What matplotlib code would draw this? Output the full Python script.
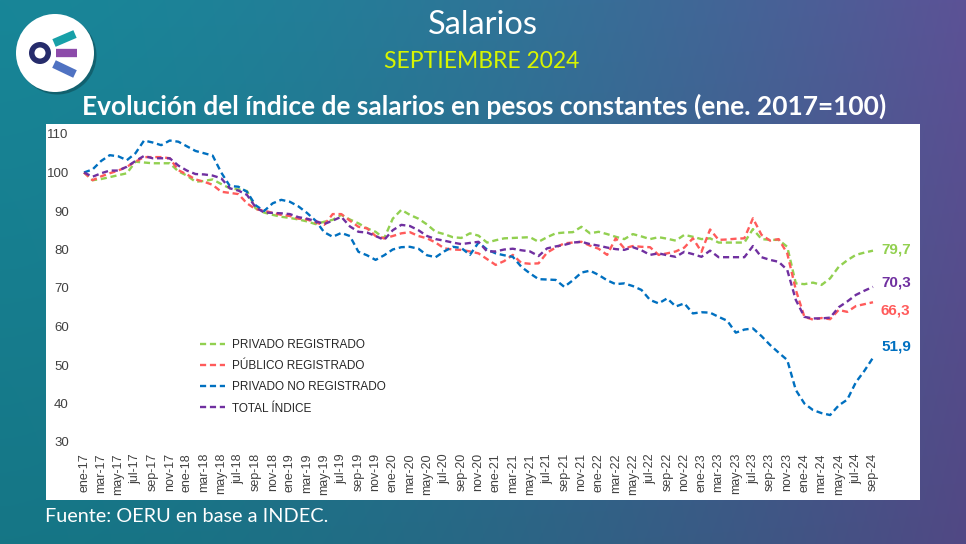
import numpy as np
import matplotlib
matplotlib.use("Agg")
import matplotlib.pyplot as plt
from matplotlib.patches import Circle, Rectangle

# ---------------- data ----------------
month_names = ["ene", "feb", "mar", "abr", "may", "jun", "jul", "ago", "sep", "oct", "nov", "dic"]
years = ["17", "18", "19", "20", "21", "22", "23", "24"]
month_labels = [f"{m}-{y}" for y in years for m in month_names][:93]

privado_registrado = [
    100, 98, 98.3, 98.8, 99.3, 99.8, 102.8, 102.6, 102.4, 102.4, 102.4, 100.3,
    99.2, 97.6, 97.8, 98.2, 97, 95.9, 95.6, 95.2, 90.7, 89.6, 89, 88.5,
    88.2, 87.8, 87.3, 86.6, 87.2, 87.7, 89, 87.8, 86.8, 85.5, 84.6, 82.9,
    88, 90.3, 89, 88, 86.5, 84.6, 84, 83.2, 83, 84.2, 83.6, 81.8,
    82.4, 82.9, 83, 83.1, 83.2, 82, 83.2, 84.2, 84.4, 84.5, 85.9, 84.2,
    84.6, 84, 83.3, 82.7, 84, 83.4, 82.7, 83.2, 82.8, 82.3, 83.8, 83.3,
    82.7, 82.9, 81.8, 81.8, 81.8, 81.8, 85.3, 82.7, 82.5, 82.5, 80.7, 71.2,
    71, 71.4, 70.8, 72.5, 75.5, 77.2, 78.6, 79.2, 79.7]

publico_registrado = [
    100, 98, 99, 99.8, 100.5, 101.5, 102.8, 104, 104, 104, 103.7, 100.6,
    99.5, 98.2, 97.6, 96.8, 95, 94.7, 94.4, 92, 90.5, 90.1, 89.5, 89,
    88.7, 88, 87.8, 87, 86.4, 89.2, 89.2, 87.5, 85.9, 85.5, 83.5, 82.9,
    83.5, 84.2, 84.5, 83.5, 82.9, 81.8, 80.3, 80, 79.9, 79.5, 79, 77.5,
    76, 77, 78.6, 76.5, 76.3, 76.4, 79.2, 80.5, 81.6, 81.8, 82, 81,
    80.2, 78.6, 82.9, 80.3, 80.9, 80.7, 80.6, 78.6, 79, 79.5, 80.5, 82.9,
    79.4, 85.2, 82.5, 82.6, 82.8, 82.9, 88.1, 83.8, 82.3, 82.7, 79, 69.5,
    62.5, 61.8, 62.2, 61.9, 64.3, 63.8, 65.3, 65.8, 66.3]

privado_no_registrado = [
    100, 100.8, 103, 104.5, 104.2, 103.2, 105, 108.3, 107.8, 107.1, 108.3, 108,
    106.8, 105.6, 105, 104.4, 100, 96.5, 96.3, 95, 91.5, 90, 92, 92.9,
    92.4, 91.2, 89.5, 87.5, 84.5, 83.3, 84.3, 83.5, 79.4, 78.5, 77.3, 78.5,
    80, 80.6, 80.7, 80.2, 78.5, 78, 79.5, 80.7, 80.4, 78.6, 81.8, 80,
    79, 78.5, 78.1, 75.5, 73.8, 72.3, 72.2, 72.1, 70.3, 72, 74, 74.5,
    73.4, 72, 71, 71.2, 70.5, 69.5, 66.9, 66, 67.3, 65.2, 66, 63.4,
    63.7, 63.6, 62.5, 61.5, 58.4, 59.2, 59.5, 57.5, 55.2, 53.2, 51.3, 43.5,
    40, 38.3, 37.5, 37, 39.5, 41, 45.5, 48.5, 51.9]

total_indice = [
    100, 98.9, 99.8, 100.5, 100.5, 101.5, 103, 104.3, 103.7, 103.7, 103.7, 101.8,
    100.5, 99.6, 99.5, 99.2, 98.5, 95.9, 95.3, 94.2, 91, 89.6, 89.5, 89.4,
    89.2, 88.4, 88, 87.4, 86.6, 87.5, 88.5, 86, 84.6, 84.4, 83.5, 82.5,
    85, 86.4, 86.1, 85, 83.5, 82.7, 82.3, 81.8, 81.4, 81.7, 82, 79.5,
    79.5, 80, 80.2, 79.8, 79.5, 78.3, 80.3, 80.8, 81.2, 81.8, 82, 81.4,
    81, 80.5, 80.1, 79.9, 80.6, 79.8, 78.6, 79, 78.5, 78.1, 79.4, 78.8,
    78.1, 79.7, 78, 78, 78, 78, 80.9, 78, 77.3, 76.8, 74.7, 66.9,
    62.5, 62.1, 62.1, 62.3, 65, 66.5, 68.2, 69.3, 70.3]

series_names = ["PRIVADO REGISTRADO", "PÚBLICO REGISTRADO", "PRIVADO NO REGISTRADO", "TOTAL ÍNDICE"]
series_values = [privado_registrado, publico_registrado, privado_no_registrado, total_indice]
end_labels = ["79,7", "66,3", "51,9", "70,3"]
y_ticks = [30, 40, 50, 60, 70, 80, 90, 100, 110]

# ---------------- style ----------------
colors = ["#92D050", "#FF5B5B", "#0070C0", "#7030A0"]
label_dy_px = [1, -8, 11, 4]
W, H = 966, 544
plt.rcParams['font.family'] = ['Liberation Sans', 'DejaVu Sans']

fig = plt.figure(figsize=(W / 100, H / 100), dpi=100)

# background gradient
bg = fig.add_axes([0, 0, 1, 1])
bg.set_xlim(0, W)
bg.set_ylim(H, 0)
bg.axis("off")
xs = np.linspace(0, 1, 400)
ys = np.linspace(0, 1, 200)
XX, YY = np.meshgrid(xs, ys)
t = np.clip(XX ** 1.6, 0, 1)
left = np.array([24, 134, 152]) / 255
right = np.array([92, 82, 150]) / 255
img = left[None, None, :] * (1 - t[..., None]) + right[None, None, :] * t[..., None]
img = img * (1 - 0.12 * YY[..., None])
bg.imshow(img, extent=[0, W, H, 0], aspect="auto", zorder=0)

# white panel
bg.add_patch(Rectangle((46, 124), 874, 376, facecolor="white", edgecolor="none", zorder=1))

# logo
bg.add_patch(Circle((57.5, 55.5), 39, facecolor="#000000", alpha=0.25, edgecolor="none", zorder=2))
bg.add_patch(Circle((55, 53), 39, facecolor="white", edgecolor="none", zorder=3))
bg.plot([54, 75], [43, 34], color="#17A0A8", lw=6, solid_capstyle="butt", zorder=4)
bg.plot([56, 77], [53, 53], color="#8C4BAA", lw=6, solid_capstyle="butt", zorder=4)
bg.plot([54, 75], [64, 74], color="#4F72C2", lw=6, solid_capstyle="butt", zorder=4)
bg.add_patch(Circle((40, 53), 11, facecolor="#262C6B", edgecolor="none", zorder=5))
bg.add_patch(Circle((40, 53), 5.5, facecolor="white", edgecolor="none", zorder=6))

# header texts
fig.text(483 / W, 1 - 25 / H, "Salarios", color="white", fontsize=23.5,
         family=["Lato", "DejaVu Sans"], ha="center", va="center")
fig.text(482 / W, 1 - 62 / H, "SEPTIEMBRE 2024", color="#D8F500", fontsize=16.5,
         family=["Lato", "DejaVu Sans"], ha="center", va="center")
fig.text(484 / W, 1 - 106 / H, "Evolución del índice de salarios en pesos constantes (ene. 2017=100)",
         color="white", fontsize=19, fontweight="bold", family=["Lato", "DejaVu Sans"],
         ha="center", va="center")
fig.text(45 / W, 1 - 517 / H, "Fuente: OERU en base a INDEC.", color="white", fontsize=14.3,
         family=["Lato", "DejaVu Sans"], ha="left", va="center")

# chart axes
ax = fig.add_axes([84 / W, 1 - 442 / H, (873 - 84) / W, (442 - 134) / H])
ax.patch.set_alpha(0)
x = np.arange(len(month_labels))
for name, vals, c in zip(series_names, series_values, colors):
    ax.plot(x, vals, color=c, lw=1.7, dashes=(2.6, 1.6), label=name, clip_on=False)

for vals, lab, c, dy in zip(series_values, end_labels, colors, label_dy_px):
    ax.annotate(lab, xy=(x[-1], vals[-1]), xytext=(8, dy), textcoords="offset pixels",
                color=c, fontsize=11, fontweight="bold", ha="left", va="center",
                annotation_clip=False)

ax.set_xlim(0, len(month_labels) - 1)
ax.set_ylim(30, 110)
ax.set_yticks(y_ticks)
ax.set_yticklabels([str(v) for v in y_ticks])
ax.set_xticks(x[::2])
ax.set_xticklabels(month_labels[::2], rotation=90)
ax.tick_params(axis="y", length=0, pad=11, labelsize=9.5, labelcolor="#404040")
ax.tick_params(axis="x", length=0, pad=8, labelsize=9, labelcolor="#404040")
for s in ax.spines.values():
    s.set_visible(False)

leg = ax.legend(loc="upper left", bbox_to_anchor=((200 - 84) / 789, (442 - 339) / 308),
                frameon=False, fontsize=8.5, handlelength=2.1, handletextpad=0.6,
                labelspacing=0.78, borderpad=0, borderaxespad=0)
for txt in leg.get_texts():
    txt.set_color("#262626")

fig.savefig("out.png", dpi=100)
